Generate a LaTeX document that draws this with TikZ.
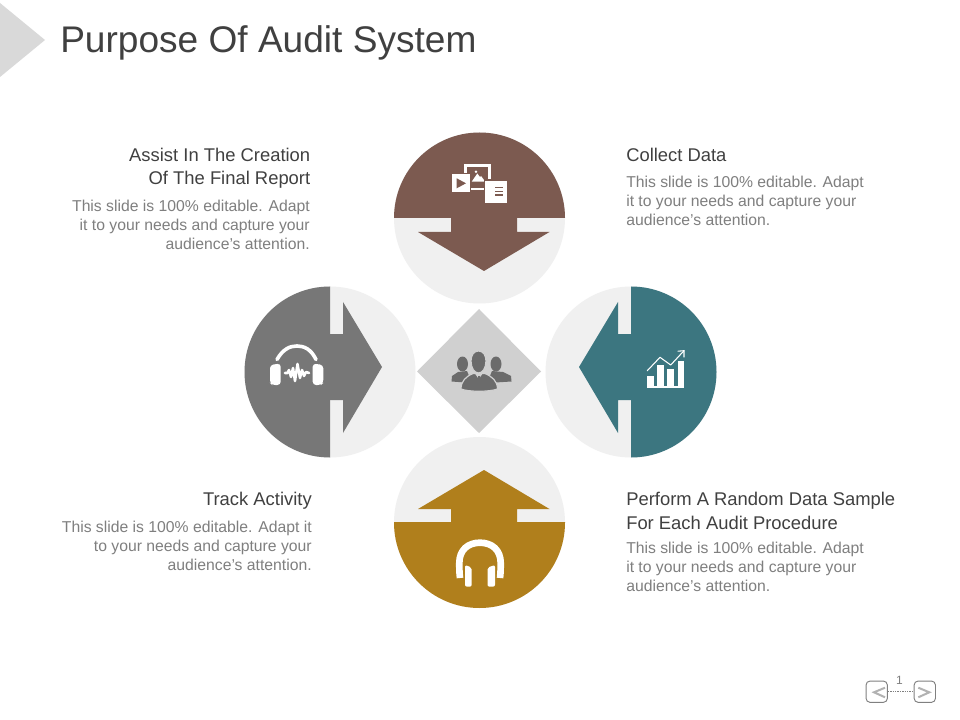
\documentclass[tikz,border=0pt]{standalone}
\usepackage{fontspec}
\setmainfont{Liberation Sans}
\definecolor{lightc}{HTML}{F0F0F0}
\definecolor{brownc}{HTML}{7C5A50}
\definecolor{grayc}{HTML}{777777}
\definecolor{tealc}{HTML}{3C7680}
\definecolor{goldc}{HTML}{B07F1C}
\definecolor{diamc}{HTML}{D0D0D0}
\definecolor{peoplec}{HTML}{6B6B6B}
\definecolor{triac}{HTML}{D9D9D9}
\definecolor{headc}{HTML}{404040}
\definecolor{bodyc}{HTML}{7F7F7F}
\tikzset{
  headtext/.style={inner sep=0pt,text=headc,font=\fontsize{13.8}{17.6}\selectfont},
  bodytext/.style={inner sep=0pt,text=bodyc,font=\fontsize{11.8}{14.25}\selectfont},
  navbox/.style={draw=black!50,line width=.7pt,rounded corners=3pt,fill=white},
  navchev/.style={draw=black!30,line width=1.5pt},
}
\begin{document}
\begin{tikzpicture}[x=.75pt,y=-.75pt]
\useasboundingbox (0,0) rectangle (960,720);
\fill[white] (0,0) rectangle (960,720);
% corner triangle
\fill[triac] (0,3) -- (45,40) -- (0,77) -- cycle;
\node[anchor=base west,inner sep=0pt,text=headc,font=\fontsize{27.8}{32}\selectfont] (title) at (60,53) {Purpose Of Audit System};
% light circles
\fill[lightc] (479.5,218) circle (85.5);
\fill[lightc] (330,372) circle (85.5);
\fill[lightc] (631,372) circle (85.5);
\fill[lightc] (479.5,522.5) circle (85.5);
% top
\begin{scope}\clip (380,120) rectangle (580,218);
\fill[brownc] (479.5,218) circle (85.5);\end{scope}
\fill[brownc] (451,217.5) -- (517,217.5) -- (517,232) -- (549.5,232) -- (484,271) -- (418,232) -- (451,232) -- cycle;
% left
\begin{scope}\clip (230,270) rectangle (330,470);
\fill[grayc] (330,372) circle (85.5);\end{scope}
\fill[grayc] (329.5,334) -- (343,334) -- (343,302) -- (382,367) -- (343,433) -- (343,400) -- (329.5,400) -- cycle;
% right
\begin{scope}\clip (631,270) rectangle (730,470);
\fill[tealc] (631,372) circle (85.5);\end{scope}
\fill[tealc] (631.5,334) -- (618,334) -- (618,302) -- (579,367) -- (618,433) -- (618,400) -- (631.5,400) -- cycle;
% bottom
\begin{scope}\clip (380,522) rectangle (580,620);
\fill[goldc] (479.5,522.5) circle (85.5);\end{scope}
\fill[goldc] (451,522.5) -- (517,522.5) -- (517,509) -- (549.5,509) -- (484,470) -- (418,509) -- (451,509) -- cycle;
% diamond
\fill[diamc] (479,309) -- (541,371.5) -- (479,433) -- (417,371.5) -- cycle;
% people icon
\fill[peoplec] (462.5,364) ellipse (5.5 and 7.5);
\fill[peoplec] (496,364) ellipse (5.5 and 7.5);
\fill[peoplec] (451.5,381.5) -- (452,376) -- (458,372) -- (467,371) -- (472,383) -- cycle;
\fill[peoplec] (511.5,381.5) -- (511,376) -- (503,372) -- (492,371) -- (487,383) -- cycle;
\fill[peoplec,draw=diamc,line width=.9pt] (478.5,351) .. controls (474,351) and (471,355) .. (471,361) .. controls (471,368) and (474.5,373) .. (478.5,373) .. controls (482.5,373) and (486,368) .. (486,361) .. controls (486,355) and (483,351) .. (478.5,351) -- cycle;
\fill[peoplec,draw=diamc,line width=.9pt] (461,389) .. controls (461,381) and (466,376.5) .. (473,373.5) -- (485,373.5) .. controls (492,376.5) and (497.5,381) .. (497.5,389) .. controls (490,392) and (468,392) .. (461,389) -- cycle;
\fill[diamc] (474.5,373) -- (478.8,379) -- (483,373) -- cycle;
\fill[peoplec] (477.8,376) rectangle (479.8,383);
% brown icon
\fill[white] (464,164) rectangle (490.5,190.5);
\fill[brownc] (466.7,166.7) rectangle (487.8,187.8);
\fill[white] (471.7,181.7) -- (477.3,173.5) -- (480,177) -- (481,176) -- (485.3,181.7) -- cycle;
\fill[white] (476,171.7) circle (1.4);
\fill[brownc] (451,173) rectangle (471,193);
\fill[white] (452,174) rectangle (470,192);
\fill[brownc] (456.7,178.3) -- (466,183.3) -- (456.7,188.3) -- cycle;
\fill[brownc] (484,179.5) rectangle (507.7,204);
\fill[white] (485.3,180.7) rectangle (506.7,202.7);
\foreach \ya in {186.7,190.7,194.5}{\fill[brownc] (495,\ya) rectangle (503.3,\ya+1.5);}
% left headphones icon
\draw[white,line width=2.7pt,line cap=round] (277,359.5) .. controls (283,349) and (290,346) .. (297,346) .. controls (304,346) and (311,349) .. (316,359.5);
\fill[white,rounded corners=2.5pt] (270,372) -- (270,365) -- (280.7,363.5) -- (280.7,385) -- (272,385) -- (270,383) -- cycle;
\fill[white,rounded corners=2.5pt] (323.3,372) -- (323.3,365) -- (312.7,363.5) -- (312.7,385) -- (321,385) -- (323.3,383) -- cycle;
\draw[white,line width=1.9pt,line join=round,line cap=round] (285,373) -- (287.5,373) -- (289,370) -- (291,377) -- (293,368) -- (295,381) -- (297.5,364) -- (300,378) -- (302,370) -- (304,376) -- (306,372) -- (309,373);
% teal chart icon
\fill[white] (647.3,376) rectangle (654,387.5);
\fill[white] (657.3,365) rectangle (664,387.5);
\fill[white] (667.3,369.3) rectangle (674,387.5);
\fill[white] (677.7,361) rectangle (684.3,387.5);
\fill[white] (647.3,386) rectangle (684.3,387.5);
\draw[white,line width=.8pt,line join=round,line cap=round] (647.3,370.7) -- (660,357.3) -- (670.7,365) -- (684,350.7);
\draw[white,line width=.8pt,line join=miter,line cap=round] (678,351.2) -- (684,350.7) -- (684,357);
% gold headphones icon
\draw[white,line width=5pt] (460,578) .. controls (459.3,572) and (459.3,568) .. (459.3,563) .. controls (459.3,550) and (468,542.7) .. (480,542.7) .. controls (492,542.7) and (500.7,550) .. (500.7,563) .. controls (500.7,568) and (500.7,572) .. (500,578);
\fill[white,rounded corners=1.5pt] (465,565) -- (471.7,567.5) -- (471.7,586.7) -- (465,586.7) -- cycle;
\fill[white,rounded corners=1.5pt] (495,565) -- (487.5,567.5) -- (487.5,586.7) -- (495,586.7) -- cycle;
% texts
\node[headtext,anchor=base west] (h1) at (626,162) {Collect Data};
\node[bodytext,anchor=base west,align=left] (b1) at (626,226) {This slide is 100\% editable. Adapt\\it to your needs and capture your\\audience's attention.};
\node[headtext,anchor=base east,align=right] (h2) at (310.5,185) {Assist In The Creation\\Of The Final Report};
\node[bodytext,anchor=base east,align=right] (b2) at (310,249.3) {This slide is 100\% editable. Adapt\\it to your needs and capture your\\audience's attention.};
\node[headtext,anchor=base east] (h3) at (312,505.5) {Track Activity};
\node[bodytext,anchor=base east,align=right] (b3) at (312,570) {This slide is 100\% editable. Adapt it\\to your needs and capture your\\audience's attention.};
\node[headtext,anchor=base west,align=left] (h4) at (626,529) {Perform A Random Data Sample\\For Each Audit Procedure};
\node[bodytext,anchor=base west,align=left] (b4) at (626,591) {This slide is 100\% editable. Adapt\\it to your needs and capture your\\audience's attention.};
% nav
\node[navbox,minimum width=16pt,minimum height=16pt,inner sep=0pt] (navl) at (876.7,691.7) {};
\node[navbox,minimum width=16pt,minimum height=16pt,inner sep=0pt] (navr) at (924.8,691.7) {};
\draw[black!50,line width=.4pt,dash pattern=on 1pt off .8pt] (navl) -- (navr);
\draw[navchev] (885,687.7) -- (874,692.3) -- (885,697.3);
\draw[navchev] (918.3,687.7) -- (929.3,692.3) -- (918.3,697.3);
\node[inner sep=0pt,text=bodyc,font=\fontsize{9}{11}\selectfont] (pg) at (899.5,680) {1};
\end{tikzpicture}
\end{document}
